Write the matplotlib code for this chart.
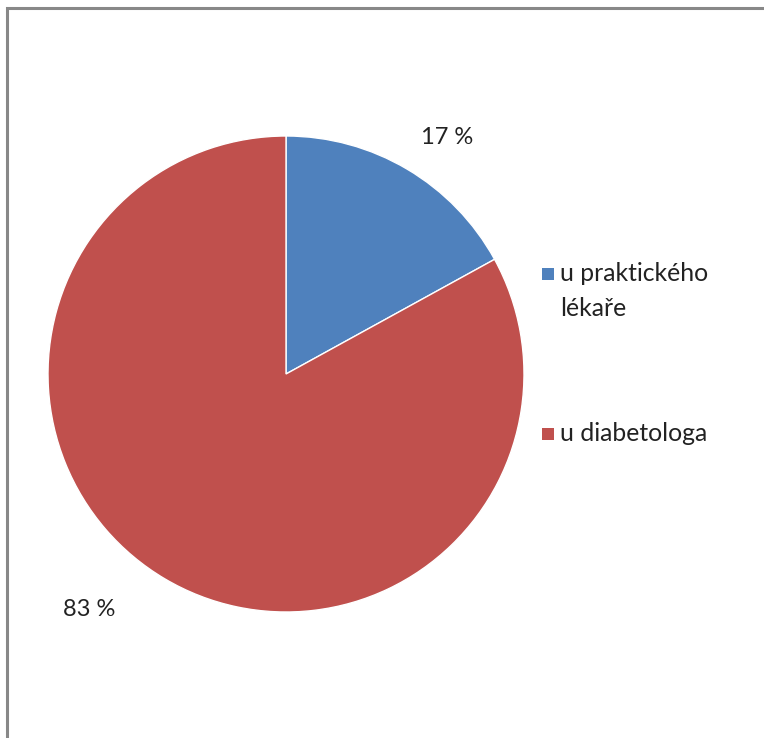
import matplotlib
matplotlib.use("Agg")
import matplotlib.pyplot as plt
from matplotlib.patches import Rectangle

plt.rcParams['font.family'] = ['Lato', 'DejaVu Sans']

categories = ["u praktického\nlékaře", "u diabetologa"]
shares = [17, 83]
pct_labels = ["17 %", "83 %"]
colors = ["#4F81BD", "#C0504D"]

W, H = 764, 738
fig = plt.figure(figsize=(W / 100, H / 100), dpi=100)
ax = fig.add_axes([0, 0, 1, 1])

cx, cy, r = 286, H - 374, 238
wedges, _ = ax.pie(shares, colors=colors, startangle=90, counterclock=False,
                   center=(cx, cy), radius=r, frame=True,
                   wedgeprops=dict(edgecolor="white", linewidth=1.0))
ax.set_xlim(0, W)
ax.set_ylim(0, H)
ax.set_aspect("equal")
ax.axis("off")

# percentage labels outside the slices
label_pos = [(447, H - 137), (89, H - 609)]
for txt, (x, y) in zip(pct_labels, label_pos):
    ax.text(x, y, txt, ha="center", va="center", fontsize=17, color="#222222")

# legend drawn by hand
leg_y = [H - 274, H - 434]
for col, lab, y in zip(colors, categories, leg_y):
    ax.add_patch(Rectangle((542, y - 6), 12, 12, facecolor=col, edgecolor="none"))
    ax.text(560, y + 12, lab, ha="left", va="top", fontsize=17.8,
            color="#222222", linespacing=1.62)

# chart frame (left and top edges visible)
fig.patches.append(Rectangle((7 / W, -0.1), 1.2, (H - 8) / H + 0.1,
                             transform=fig.transFigure, fill=False,
                             edgecolor="#888888", linewidth=2.2))

fig.savefig("out.png", dpi=100)
